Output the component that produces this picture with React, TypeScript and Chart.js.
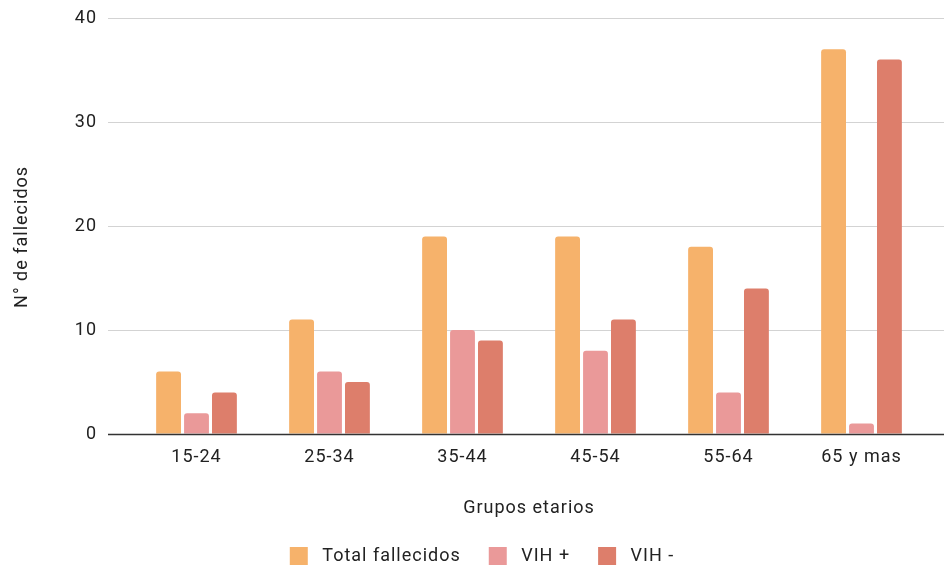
import React, { useEffect, useRef } from "react";
import { Chart, registerables } from "chart.js";

Chart.register(...registerables);

const categories = ["15-24", "25-34", "35-44", "45-54", "55-64", "65 y mas"];
const totalFallecidos = [6, 11, 19, 19, 18, 37];
const vihPositivo = [2, 6, 10, 8, 4, 1];
const vihNegativo = [4, 5, 9, 11, 14, 36];
const seriesNames = ["Total fallecidos", "VIH +", "VIH -"];
const seriesColors = ["#f6b26b", "#ea9999", "#dd7e6b"];
const yTicks = [0, 10, 20, 30, 40];

const FONT = "Roboto, 'Liberation Sans', Arial, sans-serif";
const TEXT = "#222222";
const SIZE = 18;

const spacing = {
  id: "spacing",
  beforeUpdate(chart: any) {
    chart.ctx.letterSpacing = "1px";
  },
  beforeLayout(chart: any) {
    chart.ctx.letterSpacing = "1px";
  },
  afterLayout(chart: any) {
    const lg = chart.legend;
    if (lg) {
      lg.left += 18;
      lg.right += 18;
    }
  },
  beforeDraw(chart: any) {
    chart.ctx.letterSpacing = "1px";
  },
};

const extendGrid = {
  id: "extendGrid",
  beforeDatasetsDraw(chart: any) {
    const { ctx, chartArea } = chart;
    const y = chart.scales.y;
    const x0 = chartArea.left - 22;
    const x1 = chartArea.right + 16;
    ctx.save();
    ctx.lineWidth = 1;
    ctx.strokeStyle = "#d3d3d3";
    for (const v of yTicks) {
      if (v === 0) continue;
      const py = Math.round(y.getPixelForValue(v)) + 0.5;
      ctx.beginPath();
      ctx.moveTo(x0, py);
      ctx.lineTo(chartArea.left, py);
      ctx.moveTo(chartArea.right, py);
      ctx.lineTo(x1, py);
      ctx.stroke();
    }
    ctx.restore();
  },
  afterDatasetsDraw(chart: any) {
    const { ctx, chartArea } = chart;
    const y = chart.scales.y;
    const x0 = chartArea.left - 22;
    const x1 = chartArea.right + 16;
    const py = Math.round(y.getPixelForValue(0)) + 0.5;
    ctx.save();
    ctx.lineWidth = 1.5;
    ctx.strokeStyle = "#333333";
    ctx.beginPath();
    ctx.moveTo(x0, py);
    ctx.lineTo(x1, py);
    ctx.stroke();
    ctx.restore();
  },
};

export default function App() {
  const ref = useRef<HTMLCanvasElement | null>(null);

  useEffect(() => {
    if (!ref.current) return;
    const seriesData = [totalFallecidos, vihPositivo, vihNegativo];
    const chart = new Chart(ref.current, {
      type: "bar",
      data: {
        labels: categories,
        datasets: seriesData.map((d, i) => ({
          label: seriesNames[i],
          data: d,
          backgroundColor: seriesColors[i],
          borderRadius: 3,
          borderSkipped: "bottom",
          categoryPercentage: 0.63,
          barPercentage: 0.89,
        })),
      },
      options: {
        animation: false,
        responsive: false,
        maintainAspectRatio: false,
        layout: { padding: { top: 18, right: 18, bottom: -10, left: 0 } },
        plugins: {
          legend: {
            position: "bottom",
            labels: {
              boxWidth: 18,
              boxHeight: 18,
              padding: 28,
              color: TEXT,
              font: { family: FONT, size: SIZE },
              generateLabels(chart: any) {
                const items = Chart.defaults.plugins.legend.labels.generateLabels(chart);
                return items.map((it: any) => ({ ...it, text: " " + it.text, lineWidth: 0, strokeStyle: "transparent" }));
              },
            },
          },
          tooltip: { enabled: false },
        },
        scales: {
          x: {
            grid: { display: false, drawTicks: false },
            border: { display: false },
            ticks: {
              color: TEXT,
              font: { family: FONT, size: SIZE },
              padding: 13,
            },
            title: {
              display: true,
              text: "Grupos etarios",
              color: TEXT,
              font: { family: FONT, size: SIZE },
              padding: { top: 0, bottom: 0 },
            },
            afterFit(scale: any) {
              scale.height = 85;
            },
          },
          y: {
            min: 0,
            max: 40,
            grid: { color: "#d3d3d3", drawTicks: true, tickLength: 30, tickColor: "rgba(0,0,0,0)" },
            border: { display: false },
            ticks: {
              stepSize: 10,
              color: TEXT,
              font: { family: FONT, size: SIZE },
              padding: 3,
            },
            title: {
              display: true,
              text: "N° de fallecidos    ",
              color: TEXT,
              font: { family: FONT, size: SIZE },
              padding: { top: 12, bottom: 0 },
            },
            afterFit(scale: any) {
              scale.width = 130;
            },
          },
        },
      },
      plugins: [spacing, extendGrid],
    });
    return () => chart.destroy();
  }, []);

  return (
    <div style={{ position: "absolute", left: 0, top: 0, width: 946, height: 565, background: "#fff" }}>
      <canvas ref={ref} width={946} height={565} style={{ display: "block" }} />
    </div>
  );
}
